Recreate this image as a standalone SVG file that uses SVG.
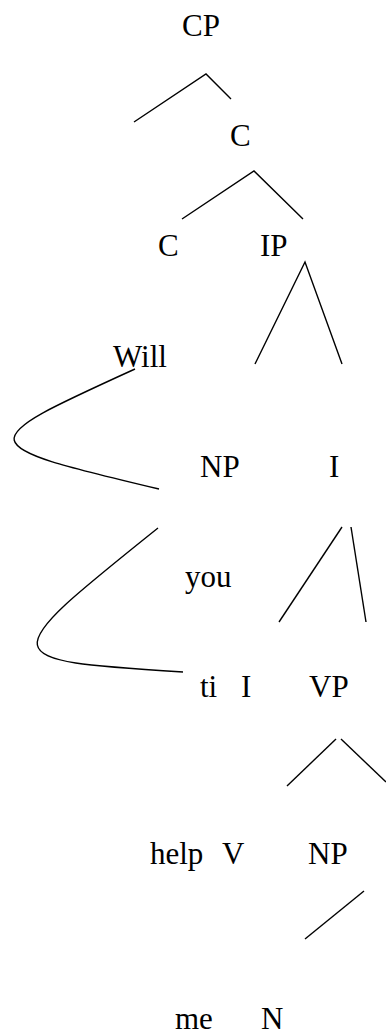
<svg xmlns="http://www.w3.org/2000/svg" width="386" height="1035" viewBox="0 0 386 1035">
<style>
.t{font-family:'Liberation Serif','DejaVu Serif',serif;font-size:31px;fill:#000}
.e{stroke:#000;stroke-width:1.4;fill:none}
</style>
<rect width="386" height="1035" fill="#fff"/>
<g id="connectors">
<path class="e" d="M134,122 L206,74 L231,99"/>
<path class="e" d="M182,219 L254,171 L303,219"/>
<path class="e" d="M255,364 L305,262 L342,364"/>
<path class="e" d="M342,527 L279,622"/>
<path class="e" d="M351,527 L366,622"/>
<path class="e" d="M287,786 L336,739"/>
<path class="e" d="M341,739 L386,782"/>
<path class="e" d="M364,891 L305,939"/>
<path class="e" d="M135,369 C-30,444 -30,444 159,489"/>
<path class="e" d="M158,528 C-7,660 -7,660 183,672"/>
</g>
<g class="t" font-family="Liberation Serif, DejaVu Serif, serif">
<g id="n-CP"><text x="182" y="36">CP</text></g>
<g id="n-Cbar"><text x="230" y="146">C</text></g>
<g id="n-C"><text x="158" y="256">C</text></g>
<g id="n-IP"><text x="260" y="256">IP</text></g>
<g id="n-Will"><text x="113" y="367">Will</text></g>
<g id="n-NP1"><text x="200" y="477">NP</text></g>
<g id="n-Ibar"><text x="329" y="477">I</text></g>
<g id="n-you"><text x="185" y="587">you</text></g>
<g id="n-ti"><text x="200" y="697">ti</text></g>
<g id="n-I"><text x="241" y="697">I</text></g>
<g id="n-VP"><text x="309" y="697">VP</text></g>
<g id="n-help"><text x="150" y="864">help</text></g>
<g id="n-V"><text x="222" y="864">V</text></g>
<g id="n-NP2"><text x="308" y="864">NP</text></g>
<g id="n-me"><text x="175" y="1029">me</text></g>
<g id="n-N"><text x="261" y="1029">N</text></g>
</g>
</svg>
